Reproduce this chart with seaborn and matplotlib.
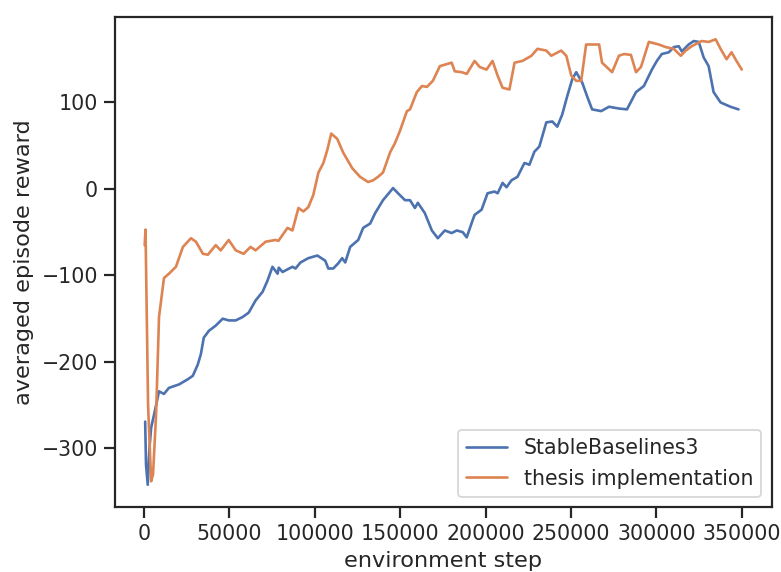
import matplotlib
matplotlib.use("Agg")
import matplotlib.pyplot as plt
import seaborn as sns

# Training curves: environment step vs. averaged episode reward
sb3_steps = [800, 1300, 2300, 3300, 4300, 6000, 8900, 11800, 14700, 20600, 25800, 28700,
             31600, 33400, 35100, 38100, 42100, 46200, 49700, 53800, 57900, 61400, 65400,
             69500, 72400, 75300, 78300, 79000, 81200, 87000, 88800, 91700, 96300, 101600,
             106200, 108000, 110900, 113800, 116100, 117900, 120800, 125500, 128400, 132500,
             135400, 140000, 145900, 148800, 152900, 155800, 158700, 160400, 164500, 168600,
             172100, 176200, 180200, 183200, 186700, 189000, 192500, 193600, 197700, 201200,
             205300, 207100, 210000, 212300, 215200, 218700, 222800, 225700, 228600, 231500,
             235600, 239100, 242000, 244900, 247800, 250800, 253100, 256600, 259500, 262400,
             267700, 272300, 278100, 282800, 288100, 292700, 297400, 300300, 303200, 307300,
             310200, 313100, 314900, 318900, 321900, 324800, 327700, 330600, 333500, 337600,
             343400, 348100]
sb3_reward = [-269, -319, -342, -300, -276, -261, -234, -237, -230, -226, -220, -216,
              -203, -191, -172, -164, -158, -150, -152, -152, -148, -143, -129,
              -119, -106, -90, -98, -91, -96, -90, -92, -85, -80, -77,
              -83, -92, -92, -86, -80, -85, -67, -59, -45, -40,
              -28, -13, 1, -5, -13, -13, -22, -16, -28, -48,
              -57, -48, -51, -48, -50, -56, -36, -30, -24, -5,
              -3, -5, 7, 2, 10, 14, 30, 28, 43, 49,
              77, 78, 72, 86, 107, 127, 135, 123, 107, 92,
              90, 95, 93, 92, 112, 119, 138, 148, 156, 158,
              164, 165, 159, 167, 171, 170, 152, 142, 112, 100,
              95, 92]

thesis_steps = [500, 1000, 2500, 4300, 5400, 7200, 8900, 11800, 14700, 18800, 22900, 27600,
                30500, 34600, 37500, 42100, 45000, 49700, 53800, 58400, 62500, 65400, 71300,
                77100, 78800, 84100, 87000, 90500, 93400, 96300, 99200, 102200, 105100, 107400,
                109700, 113200, 116700, 122000, 126600, 131300, 134200, 137100, 140000, 144100,
                147000, 149900, 154000, 155800, 159800, 162800, 165700, 169200, 173300, 180200,
                182000, 186100, 189000, 193600, 196600, 200600, 204100, 207100, 210000, 214000,
                217000, 221600, 226900, 230400, 235600, 238500, 244300, 247300, 250200, 253100,
                256000, 258900, 266500, 268200, 274100, 278100, 281100, 285100, 288100, 291000,
                295600, 301500, 305500, 310200, 314300, 317200, 320700, 326500, 330600, 334700,
                337600, 341100, 344000, 346900, 350000]
thesis_reward = [-65, -47, -250, -338, -330, -260, -148, -103, -98, -90, -67, -57,
                 -61, -75, -76, -65, -71, -59, -71, -75, -67, -71, -61,
                 -59, -60, -45, -48, -22, -26, -21, -7, 19, 30, 45,
                 64, 58, 42, 24, 14, 8, 10, 14, 19, 42,
                 53, 67, 90, 92, 112, 119, 118, 125, 142, 146,
                 136, 135, 133, 148, 141, 138, 148, 131, 117, 115,
                 146, 148, 154, 162, 160, 154, 160, 154, 131, 125,
                 125, 167, 167, 146, 135, 154, 156, 155, 135, 141,
                 170, 167, 164, 162, 154, 160, 165, 171, 170, 173,
                 162, 150, 158, 148, 138]

sns.set_theme(style="ticks", context="notebook", font_scale=1.06)

fig = plt.figure(figsize=(781 / 127, 572 / 127), dpi=127)
ax = fig.add_axes([0.147, 0.1136, 0.841, 0.8566])

sns.lineplot(x=sb3_steps, y=sb3_reward, label="StableBaselines3", estimator=None, ax=ax)
sns.lineplot(x=thesis_steps, y=thesis_reward, label="thesis implementation", estimator=None, ax=ax)

ax.set_xlabel("environment step")
ax.set_ylabel("averaged episode reward")
ax.legend(loc="lower right")

fig.savefig("out.png", dpi=127)
